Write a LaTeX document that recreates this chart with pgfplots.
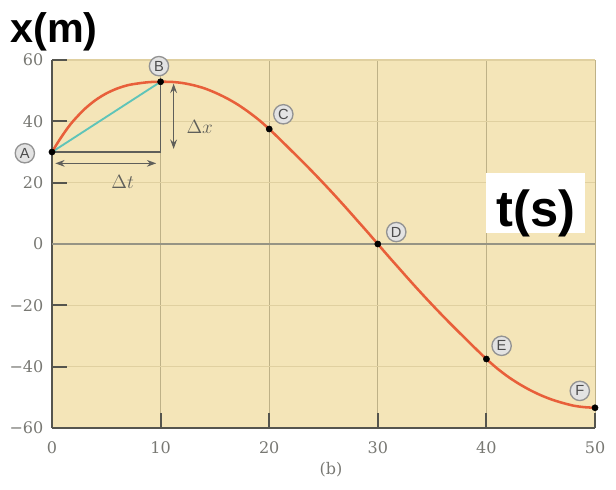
\documentclass[border=0pt]{standalone}
\usepackage{pgfplots}
\pgfplotsset{compat=1.18}
\usepackage{fontspec}
\newfontfamily\lsans{Liberation Sans}
\newfontfamily\tickfont{DejaVu Serif}
\usetikzlibrary{arrows.meta}
\definecolor{bg}{RGB}{244,229,184}
\definecolor{axisgray}{RGB}{85,85,78}
\definecolor{labelgray}{RGB}{120,120,115}
\definecolor{vgrid}{RGB}{190,177,135}
\definecolor{hgrid}{RGB}{224,208,160}
\definecolor{zerogray}{RGB}{150,148,132}
\definecolor{curvecol}{RGB}{232,95,58}
\definecolor{tealcol}{RGB}{95,196,184}
\definecolor{tri}{RGB}{95,95,90}
\begin{document}
\begin{tikzpicture}
\useasboundingbox (-39pt,-45.75pt) rectangle (423pt,321pt);
\begin{axis}[
  at={(0,0)}, anchor=south west,
  scale only axis, width=407.25pt, height=276pt,
  xmin=0, xmax=50, ymin=-60, ymax=60,
  clip=false,
  axis lines*=left,
  axis line style={color=axisgray, line width=1.6pt},
  axis background/.style={fill=bg},
  xtick={0,10,20,30,40,50},
  ytick={-60,-40,-20,0,20,40,60},
  xticklabels={0,10,20,30,40,50},
  yticklabels={−60,−40,−20,0,20,40,60},
  xmajorgrids, ymajorgrids,
  major x grid style={color=vgrid, line width=0.7pt},
  major y grid style={color=hgrid, line width=1.2pt},
  major tick length=0pt,
  xticklabel style={font=\tickfont\fontsize{12}{14}\selectfont, text=labelgray, yshift=-7pt},
  yticklabel style={font=\tickfont\fontsize{12}{14}\selectfont, text=labelgray, xshift=-3pt},
]
\draw[zerogray, line width=2pt] (axis cs:0,0) -- (axis cs:50,0);
% inward ticks
\draw[axisgray, line width=1.6pt] (axis cs:0,-40) -- (axis cs:1.4,-40);
\draw[axisgray, line width=1.6pt] (axis cs:0,-20) -- (axis cs:1.4,-20);
\draw[axisgray, line width=1.6pt] (axis cs:0,20) -- (axis cs:1.4,20);
\draw[axisgray, line width=1.6pt] (axis cs:0,40) -- (axis cs:1.4,40);
\draw[axisgray, line width=1.6pt] (axis cs:0,60) -- (axis cs:1.4,60);
\draw[axisgray, line width=1.6pt] (axis cs:10,-60) -- (axis cs:10,-55);
\draw[axisgray, line width=1.6pt] (axis cs:20,-60) -- (axis cs:20,-55);
\draw[axisgray, line width=1.6pt] (axis cs:30,-60) -- (axis cs:30,-55);
\draw[axisgray, line width=1.6pt] (axis cs:40,-60) -- (axis cs:40,-55);
\draw[axisgray, line width=1.6pt] (axis cs:50,-60) -- (axis cs:50,-55);
% secant and triangle
\addplot[tealcol, line width=1.4pt] coordinates {(0,30) (10,52.9)};
\addplot[tri, line width=1.2pt] coordinates {(0,30) (10,30) (10,52.9)};
% delta arrows
\addplot[tri, line width=1.1pt, {Stealth[length=7pt,width=5pt]}-{Stealth[length=7pt,width=5pt]}] coordinates {(11.2,52.3) (11.2,31)};
\addplot[tri, line width=1.1pt, {Stealth[length=7pt,width=5pt]}-{Stealth[length=7pt,width=5pt]}] coordinates {(0.3,26.3) (9.6,26.3)};
\node[text=tri, font=\fontsize{14}{14}\selectfont] at (axis cs:13.6,38.3) {$\Delta x$};
\node[text=tri, font=\fontsize{14}{14}\selectfont] at (axis cs:6.5,20.3) {$\Delta t$};
% curve
\addplot[curvecol, line width=1.9pt, smooth] coordinates {
(0,30) (0.5,32.9) (1,35.6) (1.5,38.1) (2,40.3) (3,44.0) (4,46.9) (5,49.1) (6,50.7)
(7,51.8) (8,52.4) (9,52.8) (10,52.9) (11,52.86) (12,52.5) (13,51.8) (14,50.8)
(15,49.4) (16,47.7) (17,45.7) (18,43.3) (19,40.6) (20,37.5) (21,34.1) (22,30.6)
(23,27.1) (24,23.5) (25,19.8) (26,16.0) (27,12.1) (28,8.1) (29,4.1) (30,0)
(31,-4.1) (32,-8.1) (33,-12.1) (34,-16.0) (35,-19.8) (36,-23.5) (37,-27.1)
(38,-30.6) (39,-34.1) (40,-37.5) (41,-40.6) (42,-43.3) (43,-45.6) (44,-47.6)
(45,-49.3) (46,-50.7) (47,-51.8) (48,-52.7) (49,-53.2) (50,-53.4)};
% dots
\addplot[only marks, mark=*, mark size=2.3pt, black] coordinates {
(0,30) (10,52.9) (20,37.5) (30,0) (40,-37.5) (50,-53.4)};
% circled letters
\tikzset{circ/.style={circle, draw=gray!85, fill=gray!22, line width=1pt, inner sep=0pt, minimum size=14.5pt, font=\lsans\fontsize{11}{11}\selectfont, text=black!70}}
\node[circ] at (axis cs:-2.5,29.6) {A};
\node[circ] at (axis cs:9.85,58.0) {B};
\node[circ] at (axis cs:21.3,42.3) {C};
\node[circ] at (axis cs:31.7,3.9) {D};
\node[circ] at (axis cs:41.4,-33.2) {E};
\node[circ] at (axis cs:48.6,-47.9) {F};
\end{axis}
\fill[white] (325.5pt,146.25pt) rectangle (399.75pt,191.25pt);
\node[anchor=base west, inner sep=0pt, font=\lsans\bfseries\fontsize{38}{38}\selectfont] at (333pt,150.75pt) {t(s)};
\node[anchor=base west, inner sep=0pt, font=\lsans\bfseries\fontsize{31}{31}\selectfont] at (-31.5pt,288.75pt) {x(m)};
\node[font=\tickfont\fontsize{12}{14}\selectfont, text=labelgray] at (209.25pt,-31.5pt) {(b)};
\end{tikzpicture}
\end{document}
